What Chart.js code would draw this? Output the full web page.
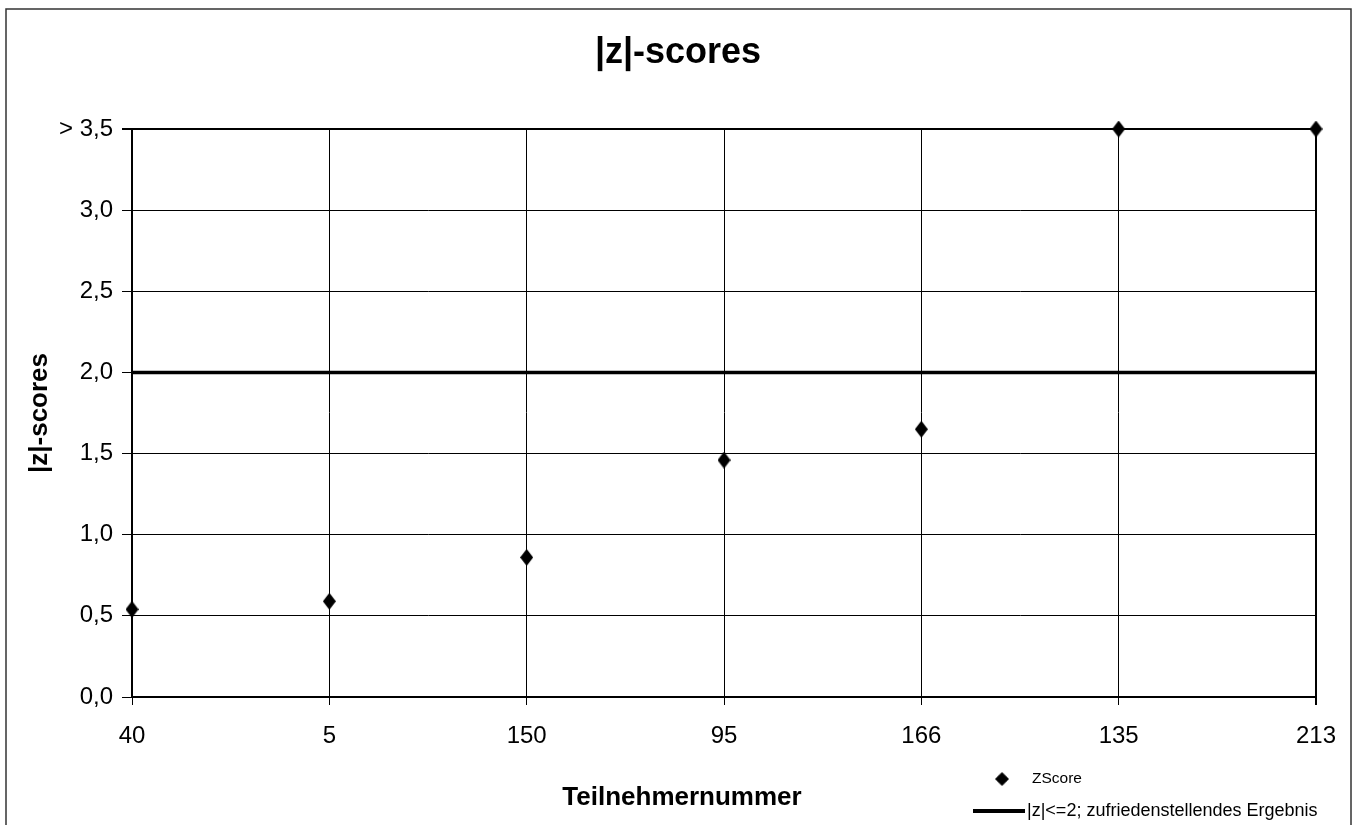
<!DOCTYPE html>
<html>
<head>
<meta charset="utf-8">
<script src="https://cdn.jsdelivr.net/npm/chart.js@4"></script>
<style>
  body { margin: 0; background: #fff; }
  canvas { display: block; }
</style>
</head>
<body>
<canvas id="chart" width="1356" height="825"></canvas>
<script>
// data
const participants = ['40', '5', '150', '95', '166', '135', '213'];
const zScores = [0.54, 0.59, 0.86, 1.46, 1.65, 3.5, 3.5];
const limitValues = [2, 2, 2, 2, 2, 2, 2];
const yTicks = ['0,0', '0,5', '1,0', '1,5', '2,0', '2,5', '3,0', '> 3,5'];

const chartTitle = '|z|-scores';
const yTitle = '|z|-scores';
const xTitle = 'Teilnehmernummer';
const font = 'Arial, "Liberation Sans", sans-serif';

// Excel style diamond marker (a bit taller than wide)
function makeDiamond(w, h) {
    const c = document.createElement('canvas');
    c.width = w; c.height = h;
    const g = c.getContext('2d');
    g.fillStyle = '#000';
    g.beginPath();
    g.moveTo(w / 2, 0);
    g.lineTo(w, h / 2);
    g.lineTo(w / 2, h);
    g.lineTo(0, h / 2);
    g.closePath();
    g.fill();
    return c;
}
const diamond = makeDiamond(13, 17);

// frame, titles and legend drawn by hand
const extras = {
    id: 'extras',
    afterDraw(chart) {
        const ctx = chart.ctx;
        ctx.save();
        ctx.strokeStyle = '#333';
        ctx.lineWidth = 1.5;
        ctx.strokeRect(6, 9, 1345, 900);

        ctx.fillStyle = '#000';
        ctx.textAlign = 'center';
        ctx.textBaseline = 'middle';
        ctx.font = 'bold 36px ' + font;
        ctx.fillText(chartTitle, 678, 53);
        ctx.font = 'bold 26px ' + font;
        ctx.fillText(xTitle, 682, 798);

        const sets = chart.data.datasets;
        ctx.textAlign = 'left';
        ctx.drawImage(diamond, 995, 772, 14, 14);
        ctx.font = '15.5px ' + font;
        ctx.fillText(sets[0].label, 1032, 779);
        ctx.strokeStyle = '#000';
        ctx.lineWidth = 4;
        ctx.beginPath();
        ctx.moveTo(973, 811);
        ctx.lineTo(1025, 811);
        ctx.stroke();
        ctx.font = '18px ' + font;
        ctx.fillText(sets[1].label, 1027, 811);
        ctx.restore();
    }
};

new Chart(document.getElementById('chart'), {
    type: 'line',
    data: {
        labels: participants,
        datasets: [{
            label: 'ZScore',
            data: zScores,
            showLine: false,
            pointStyle: diamond,
            pointRadius: 8,
            pointHoverRadius: 8,
            clip: false,
            order: 0
        }, {
            label: '|z|<=2; zufriedenstellendes Ergebnis',
            data: limitValues,
            borderColor: '#000',
            borderWidth: 3.5,
            pointRadius: 0,
            fill: false,
            clip: false,
            order: 1
        }]
    },
    options: {
        responsive: false,
        animation: false,
        layout: { padding: { top: 129, left: 20, right: 40, bottom: 0 } },
        plugins: {
            legend: { display: false },
            tooltip: { enabled: false },
            title: { display: false }
        },
        scales: {
            x: {
                type: 'category',
                offset: false,
                afterFit: s => { s.height = 128; },
                grid: {
                    color: '#000',
                    lineWidth: c => (c.index === participants.length - 1 ? 2 : 1),
                    tickLength: 8,
                    tickColor: '#000'
                },
                border: { display: true, color: '#000', width: 2 },
                ticks: {
                    color: '#000',
                    font: { family: font, size: 24 },
                    padding: 17,
                    maxRotation: 0,
                    autoSkip: false
                }
            },
            y: {
                min: 0,
                max: 3.5,
                afterFit: s => { s.width = 112; },
                afterBuildTicks: s => {
                    s.ticks = yTicks.map((t, i) => ({ value: i * 0.5 }));
                },
                grid: {
                    color: '#000',
                    lineWidth: c => (c.index === yTicks.length - 1 ? 2 : 1),
                    tickLength: 10,
                    tickColor: '#000'
                },
                border: { display: true, color: '#000', width: 2 },
                ticks: {
                    color: '#000',
                    font: { family: font, size: 24 },
                    padding: 9,
                    callback: (v, i) => yTicks[i]
                },
                title: {
                    display: true,
                    text: yTitle,
                    color: '#000',
                    font: { family: font, size: 26, weight: 'bold' },
                    padding: { top: 4, bottom: 0 }
                }
            }
        }
    },
    plugins: [extras]
});
</script>
</body>
</html>
